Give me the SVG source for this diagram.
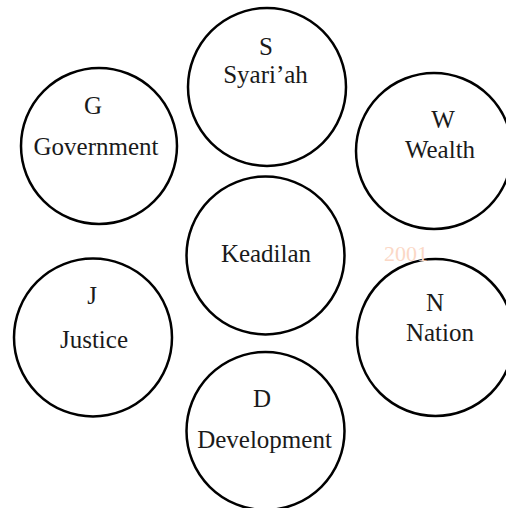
<svg xmlns="http://www.w3.org/2000/svg" width="506" height="508" viewBox="0 0 506 508">
<style>
.c{fill:#fff;stroke:#000;stroke-width:2.5}
.t{font-family:"Liberation Serif","Times New Roman",serif;font-size:25px;fill:#1a1a1a;text-anchor:middle}
.wm{font-family:"Liberation Serif","Times New Roman",serif;font-size:22px;fill:#fbd8c6}
</style>
<rect width="506" height="508" fill="#fff"/>
<g id="connectors"></g>
<g id="node-S">
<circle class="c" cx="267" cy="87" r="79"/>
<text class="t" x="266" y="55">S</text>
<text class="t" x="265.5" y="83">Syari’ah</text>
</g>
<g id="node-G">
<circle class="c" cx="99" cy="146" r="78"/>
<text class="t" x="93" y="114">G</text>
<text class="t" x="96" y="155">Government</text>
</g>
<g id="node-W">
<circle class="c" cx="434" cy="151" r="78"/>
<text class="t" x="443" y="128">W</text>
<text class="t" x="440" y="158">Wealth</text>
</g>
<g id="node-K">
<circle class="c" cx="265.5" cy="255.5" r="79"/>
<text class="t" x="266" y="262">Keadilan</text>
</g>
<g id="node-J">
<circle class="c" cx="93" cy="337.5" r="79"/>
<text class="t" x="92" y="304">J</text>
<text class="t" x="94" y="348">Justice</text>
</g>
<g id="node-N">
<circle class="c" cx="435.5" cy="337.5" r="78.5"/>
<text class="t" x="435" y="311">N</text>
<text class="t" x="440" y="341">Nation</text>
</g>
<g id="node-D">
<circle class="c" cx="265.5" cy="431" r="79"/>
<text class="t" x="262" y="407">D</text>
<text class="t" x="264.5" y="448">Development</text>
</g>
<text class="wm" x="384" y="261">2001</text>
</svg>
